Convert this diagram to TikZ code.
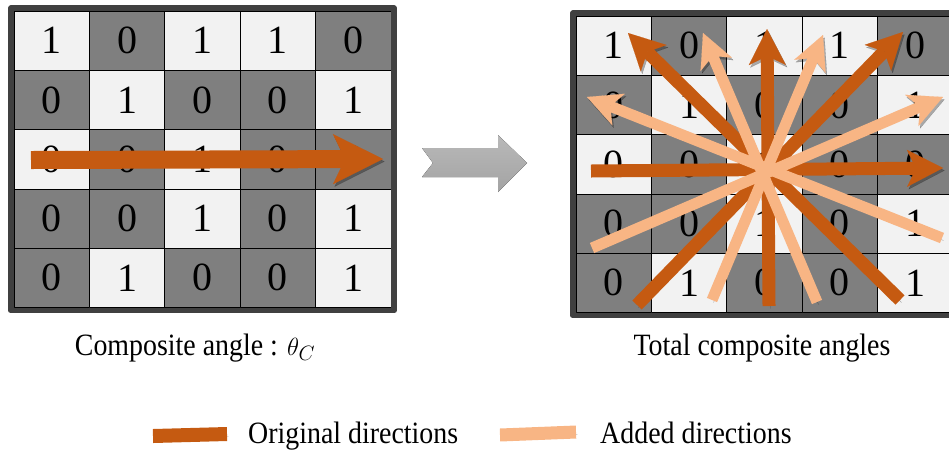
\documentclass[tikz,border=0pt]{standalone}
\usepackage{fontspec}
\setmainfont{Liberation Serif}[FakeStretch=0.9]
\newfontfamily\digitfont{Liberation Serif}
\usetikzlibrary{arrows.meta}
\definecolor{cellL}{HTML}{F2F2F2}
\definecolor{cellD}{HTML}{7F7F7F}
\definecolor{framec}{HTML}{404040}
\definecolor{origc}{HTML}{C55A11}
\definecolor{addc}{HTML}{F8B584}
\tikzset{
  cell/.style={draw=black, line width=0.8pt, minimum width=75.4pt, minimum height=59.3pt,
    inner sep=0pt, font=\digitfont\fontsize{40}{40}\selectfont},
  shadowed/.style={preaction={draw=black, opacity=.3, transform canvas={xshift=1.5pt,yshift=-2.5pt}}},
  orig/.style={draw=origc, line width=13pt,
    -{Stealth[length=36pt,width=37pt,inset=9pt,line width=0.1pt]}, shadowed},
  added/.style={draw=addc, line width=11pt,
    -{Stealth[length=34pt,width=34pt,inset=9pt,line width=0.1pt]}, shadowed},
  caption/.style={font=\fontsize{31}{37}\selectfont, inner sep=0pt},
}
\begin{document}
\begin{tikzpicture}[x=1pt, y=-1pt, line join=round]
	\useasboundingbox (0,0) rectangle (949,451);
	\clip (0,0) rectangle (949,451);
	% the two bit grids
	\foreach \gx/\gy/\gname in {14/11/lg, 576/16/rg}{
		\foreach \row [count=\r] in {{1/L,0/D,1/L,1/L,0/D},{0/D,1/L,0/D,0/D,1/L},{0/L,0/D,1/L,0/D,0/D},{0/D,0/D,1/L,0/D,1/L},{0/D,1/L,0/D,0/D,1/L}}{
			\foreach \bit/\tone [count=\c] in \row
				\node[cell, fill=cell\tone] (\gname-\r-\c) at ({\gx+(\c-0.5)*75.4},{\gy+(\r-0.5)*59.3}) {\bit};
		}
		\draw[framec, line width=5.4pt] ([shift={(-2.7,-2.7)}]\gname-1-1.north west) rectangle ([shift={(2.7,2.7)}]\gname-5-5.south east);
	}
	% composite angle
	\coordinate (lh-tail) at (31,160);
	\coordinate (lh-tip) at (383,159);
	\draw[orig, line width=18pt, -{Stealth[length=50pt,width=50pt,inset=12pt,line width=0.1pt]}] (lh-tail) -- (lh-tip);
	% gray arrow between the grids
	\fill[top color=gray!55, bottom color=gray!72] (422,148) -- (498,148) -- (498,135) -- (527,163)
		-- (498,192) -- (498,177) -- (422,177) -- (433,163) -- cycle;
	% total composite angles
	\foreach \n/\ax/\ay/\bx/\by in {o1/591/171/943/168, o2/900/300/628/33, o3/769/306/767/29, o4/637/305/903/32}{
		\coordinate (\n-tail) at (\ax,\ay);
		\coordinate (\n-tip) at (\bx,\by);
		\draw[orig] (\n-tail) -- (\n-tip);
	}
	\foreach \n/\ax/\ay/\bx/\by in {a1/942/238/587/97, a2/817/302/703/33, a3/712/300/823/35, a4/592/248/943/97}{
		\coordinate (\n-tail) at (\ax,\ay);
		\coordinate (\n-tip) at (\bx,\by);
		\draw[added] (\n-tail) -- (\n-tip);
	}
	% captions
	\node[caption, anchor=base] (cap-l) at (195,355) {Composite angle : $\theta_C$};
	\node[caption, anchor=base] (cap-r) at (762,355) {Total composite angles};
	% legend
	\coordinate (lgd-o-a) at (153,436);
	\coordinate (lgd-o-b) at (227,434);
	\coordinate (lgd-a-a) at (500,435);
	\coordinate (lgd-a-b) at (576,432);
	\draw[origc, line width=14pt, shadowed] (lgd-o-a) -- (lgd-o-b);
	\draw[addc, line width=13pt, shadowed] (lgd-a-a) -- (lgd-a-b);
	\node[caption, anchor=base west] (lgd-o) at (248,443) {Original directions};
	\node[caption, anchor=base west] (lgd-a) at (600,443) {Added directions};
\end{tikzpicture}
\end{document}
